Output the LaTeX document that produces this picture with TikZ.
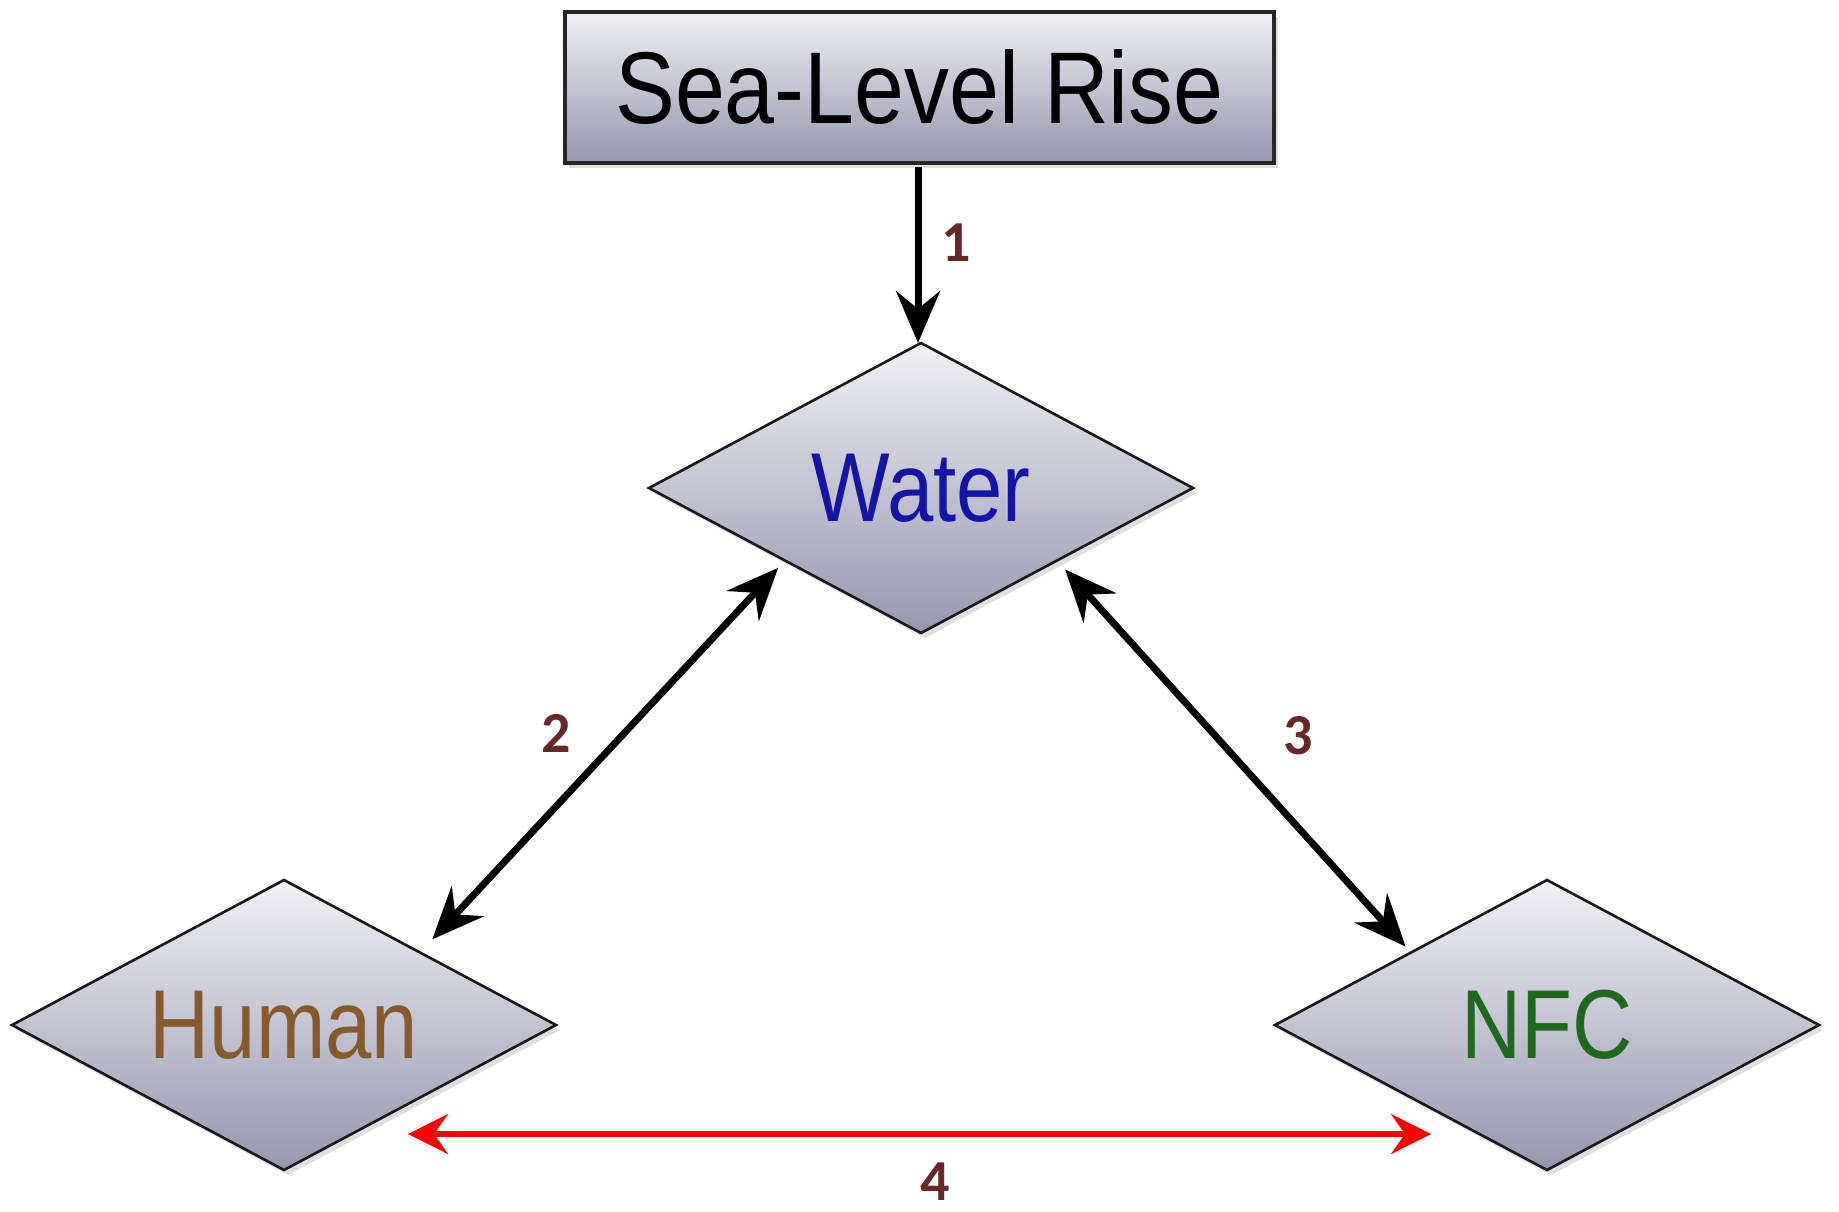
\documentclass[tikz,border=0pt]{standalone}
\usepackage{graphicx}
\usepackage{fontspec}
\setmainfont{Liberation Sans}
\newfontfamily\numfont{Carlito}
\usetikzlibrary{shapes.geometric,arrows.meta,shadows,calc}
\definecolor{waterc}{RGB}{20,20,165}
\definecolor{humanc}{RGB}{135,90,45}
\definecolor{nfcc}{RGB}{30,105,30}
\definecolor{numc}{RGB}{105,40,40}
\definecolor{shtop}{RGB}{240,240,244}
\definecolor{shbot}{RGB}{150,150,176}
\begin{document}
\begin{tikzpicture}[x=0.5pt,y=-0.5pt,
  shadebox/.style={top color=shtop,bottom color=shbot,
    drop shadow={shadow xshift=2pt,shadow yshift=-2.5pt,opacity=0.25}},
  topbox/.style={shadebox,rectangle,draw=black!85,line width=2pt,
    minimum width=354.5pt,minimum height=75.5pt,inner sep=0pt,outer sep=0pt},
  dia/.style={shadebox,diamond,aspect=2,draw=black!90,line width=1.3pt,
    minimum width=272pt,minimum height=145pt,inner sep=0pt,outer sep=0pt},
  bigtxt/.style={font=\fontsize{49}{58}\selectfont},
  numlab/.style={font=\numfont\bfseries\fontsize{29}{33}\selectfont,text=numc,inner sep=0pt},
  blk/.style={line width=3.5pt,draw=black,{Stealth[length=26pt,width=22pt,inset=9pt]}-{Stealth[length=26pt,width=22pt,inset=9pt]}},
  blkone/.style={line width=3.5pt,draw=black,-{Stealth[length=26pt,width=22pt,inset=9pt]}},
  redarr/.style={line width=2.6pt,draw=red,{Stealth[length=20pt,width=20pt,inset=7pt]}-{Stealth[length=20pt,width=20pt,inset=7pt]}}
]
\useasboundingbox (0,0) rectangle (1839,1211);

\node[topbox,font=\fontsize{51}{60}\selectfont] (slr) at (919.5,87.5) {\scalebox{0.88}[1]{Sea-Level Rise}};
\node[dia,bigtxt,text=waterc] (water) at (921,488) {\scalebox{0.85}[1]{Water}};
\node[dia,bigtxt,text=humanc] (human) at (284,1025) {\scalebox{0.85}[1]{Human}};
\node[dia,bigtxt,text=nfcc] (nfc) at (1547,1025) {\scalebox{0.85}[1]{NFC}};

\draw[blkone,shorten <=2pt] ([xshift=-1.5pt]water.north |- slr.south) -- ([xshift=-1.5pt]water.north);
\draw[blk,shorten <=5pt,shorten >=9pt] (water.south west) -- (human.north east);
\draw[blk,shorten <=6pt,shorten >=4pt] (water.south east) -- (nfc.north west);
\draw[redarr] ($(human.center)+(124,109)$) -- ($(nfc.center)+(-116,109)$);

\node[numlab] (n1) at (956,243) {1};
\node[numlab] (n2) at (556,733) {2};
\node[numlab] (n3) at (1298,736) {3};
\node[numlab] (n4) at (935,1182) {4};
\end{tikzpicture}
\end{document}
